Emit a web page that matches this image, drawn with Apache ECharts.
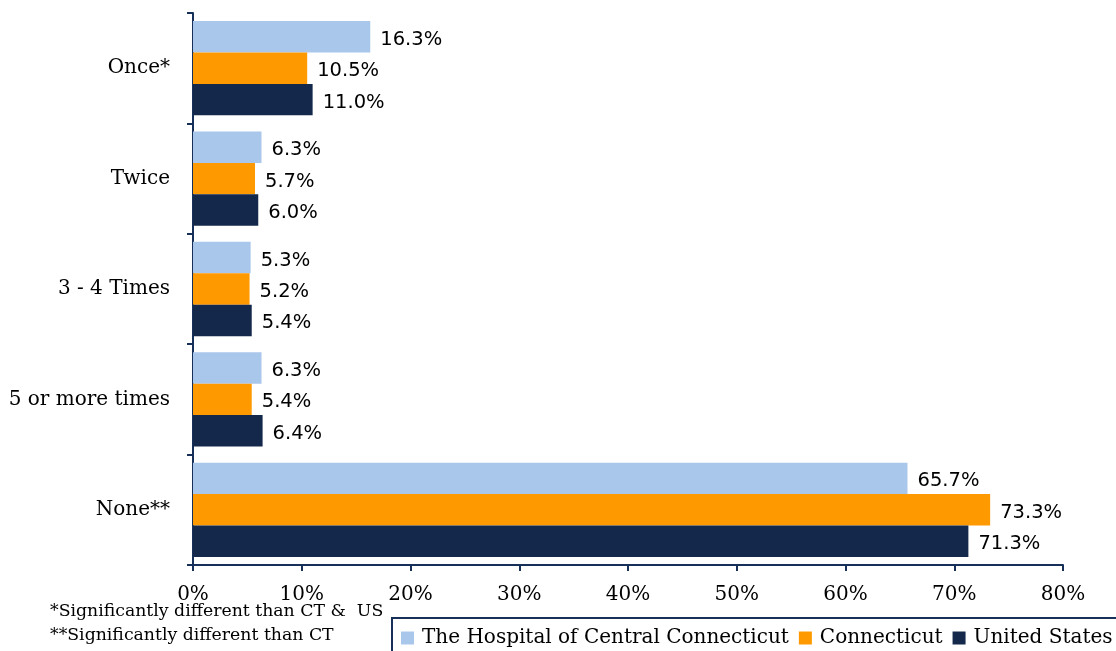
<!DOCTYPE html>
<html>
<head>
<meta charset="utf-8">
<script src="https://cdn.jsdelivr.net/npm/echarts@6/dist/echarts.min.js"></script>
<style>
  html, body { margin: 0; padding: 0; background: #fff; }
  #chart { width: 1116px; height: 651px; }
</style>
</head>
<body>
<div id="chart"></div>
<script>
// categories top to bottom
var categories = ['Once*', 'Twice', '3 - 4 Times', '5 or more times', 'None**'];
var seriesNames = ['The Hospital of Central Connecticut', 'Connecticut', 'United States'];
var hospital = [16.3, 6.3, 5.3, 6.3, 65.7];
var connecticut = [10.5, 5.7, 5.2, 5.4, 73.3];
var unitedStates = [11.0, 6.0, 5.4, 6.4, 71.3];
var xTicks = [0, 10, 20, 30, 40, 50, 60, 70, 80];

var navy = '#17305A';
var colors = ['#A9C6EB', '#FF9900', '#13284A'];
var serif = '"DejaVu Serif", serif';
var sans = '"DejaVu Sans", sans-serif';

function makeSeries(name, data, color) {
    return {
        name: name,
        type: 'bar',
        data: data,
        barGap: '0%',
        barCategoryGap: '14.6%',
        itemStyle: { color: color },
        label: {
            show: true,
            position: 'right',
            distance: 10,
            offset: [0, 3],
            fontFamily: sans,
            fontSize: 19.5,
            color: '#000',
            formatter: function (p) { return p.value.toFixed(1) + '%'; }
        }
    };
}

var myChart = echarts.init(document.getElementById('chart'));
var option = {
    animation: false,
    color: colors,
    grid: { left: 193, right: 53, top: 13, bottom: 86, containLabel: false },
    legend: {
        data: seriesNames,
        left: 392,
        top: 618,
        width: 1000,
        icon: 'rect',
        itemWidth: 13,
        itemHeight: 13,
        itemGap: 10,
        padding: [10, 10, 10, 9],
        borderColor: navy,
        borderWidth: 2,
        textStyle: { fontFamily: serif, fontSize: 20, color: '#000', padding: [0, 0, 0, 3] }
    },
    xAxis: {
        type: 'value',
        min: xTicks[0],
        max: xTicks[xTicks.length - 1],
        interval: 10,
        axisLine: { show: true, lineStyle: { color: navy, width: 2 } },
        axisTick: { show: true, length: 6, lineStyle: { color: navy, width: 2 } },
        splitLine: { show: false },
        axisLabel: {
            margin: 20,
            fontFamily: serif,
            fontSize: 20,
            color: '#000',
            formatter: '{value}%'
        }
    },
    yAxis: {
        type: 'category',
        data: categories,
        inverse: true,
        axisLine: { show: true, lineStyle: { color: navy, width: 2 } },
        axisTick: { show: true, length: 6, lineStyle: { color: navy, width: 2 } },
        axisLabel: {
            margin: 23,
            fontFamily: serif,
            fontSize: 20,
            color: '#000'
        }
    },
    graphic: [
        {
            type: 'text', left: 50, top: 603,
            style: { text: '*Significantly different than CT &  US', font: '17.3px ' + serif, fill: '#000' }
        },
        {
            type: 'text', left: 50, top: 627,
            style: { text: '**Significantly different than CT', font: '17.3px ' + serif, fill: '#000' }
        }
    ],
    series: [
        makeSeries(seriesNames[0], hospital, colors[0]),
        makeSeries(seriesNames[1], connecticut, colors[1]),
        makeSeries(seriesNames[2], unitedStates, colors[2])
    ]
};
myChart.setOption(option);
</script>
</body>
</html>
